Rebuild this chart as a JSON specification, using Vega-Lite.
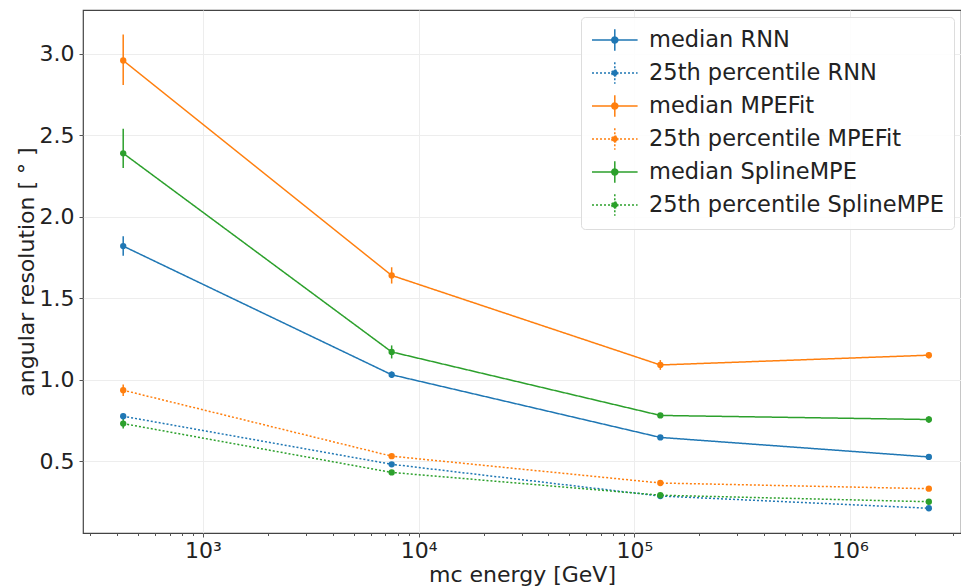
{
  "$schema": "https://vega.github.io/schema/vega-lite/v6.json",
  "width": 878,
  "height": 523,
  "autosize": {"type": "none"},
  "padding": {"left": 83, "top": 10, "right": 0, "bottom": 54},
  "background": "white",
  "config": {
    "font": "DejaVu Sans",
    "view": {"stroke": "#444", "strokeWidth": 1.2},
    "axis": {
      "labelFont": "DejaVu Sans",
      "titleFont": "DejaVu Sans",
      "labelFontSize": 22,
      "titleFontSize": 22,
      "titleFontWeight": "normal",
      "labelColor": "#222",
      "titleColor": "#222",
      "gridColor": "#ededed",
      "gridWidth": 1,
      "domain": false,
      "tickColor": "#555",
      "tickSize": 4
    }
  },
  "data": {
    "values": [
      {"series": "median RNN", "energy": 427, "value": 1.82, "lo": 1.76, "hi": 1.88},
      {"series": "median RNN", "energy": 7500, "value": 1.03, "lo": 1.01, "hi": 1.05},
      {"series": "median RNN", "energy": 132000, "value": 0.645, "lo": 0.635, "hi": 0.655},
      {"series": "median RNN", "energy": 2320000, "value": 0.525, "lo": 0.515, "hi": 0.535},
      {"series": "25th percentile RNN", "energy": 427, "value": 0.775, "lo": 0.76, "hi": 0.79},
      {"series": "25th percentile RNN", "energy": 7500, "value": 0.48, "lo": 0.47, "hi": 0.49},
      {"series": "25th percentile RNN", "energy": 132000, "value": 0.285, "lo": 0.275, "hi": 0.295},
      {"series": "25th percentile RNN", "energy": 2320000, "value": 0.21, "lo": 0.2, "hi": 0.22},
      {"series": "median MPEFit", "energy": 427, "value": 2.96, "lo": 2.81, "hi": 3.12},
      {"series": "median MPEFit", "energy": 7500, "value": 1.64, "lo": 1.59, "hi": 1.69},
      {"series": "median MPEFit", "energy": 132000, "value": 1.09, "lo": 1.06, "hi": 1.12},
      {"series": "median MPEFit", "energy": 2320000, "value": 1.15, "lo": 1.13, "hi": 1.17},
      {"series": "25th percentile MPEFit", "energy": 427, "value": 0.935, "lo": 0.9, "hi": 0.97},
      {"series": "25th percentile MPEFit", "energy": 7500, "value": 0.53, "lo": 0.52, "hi": 0.54},
      {"series": "25th percentile MPEFit", "energy": 132000, "value": 0.365, "lo": 0.355, "hi": 0.375},
      {"series": "25th percentile MPEFit", "energy": 2320000, "value": 0.33, "lo": 0.32, "hi": 0.34},
      {"series": "median SplineMPE", "energy": 427, "value": 2.39, "lo": 2.3, "hi": 2.54},
      {"series": "median SplineMPE", "energy": 7500, "value": 1.17, "lo": 1.13, "hi": 1.21},
      {"series": "median SplineMPE", "energy": 132000, "value": 0.78, "lo": 0.77, "hi": 0.79},
      {"series": "median SplineMPE", "energy": 2320000, "value": 0.755, "lo": 0.735, "hi": 0.775},
      {"series": "25th percentile SplineMPE", "energy": 427, "value": 0.73, "lo": 0.7, "hi": 0.76},
      {"series": "25th percentile SplineMPE", "energy": 7500, "value": 0.43, "lo": 0.42, "hi": 0.44},
      {"series": "25th percentile SplineMPE", "energy": 132000, "value": 0.29, "lo": 0.28, "hi": 0.3},
      {"series": "25th percentile SplineMPE", "energy": 2320000, "value": 0.25, "lo": 0.24, "hi": 0.26}
    ]
  },
  "resolve": {"axis": {"x": "independent"}},
  "layer": [
    {
      "mark": {"type": "rule", "strokeWidth": 1.5},
      "encoding": {
        "x": {
          "field": "energy", "type": "quantitative",
          "scale": {"type": "log", "domain": [278, 3270000], "nice": false},
          "axis": {
            "orient": "bottom",
            "values": [1000, 10000, 100000, 1000000],
            "labelExpr": "datum.value == 1000 ? '10³' : datum.value == 10000 ? '10⁴' : datum.value == 100000 ? '10⁵' : '10⁶'",
            "title": "mc energy [GeV]",
            "labelPadding": 3,
            "titlePadding": 3,
            "grid": true
          }
        },
        "y": {
          "field": "lo", "type": "quantitative",
          "scale": {"domain": [0.058, 3.27], "nice": false, "zero": false},
          "axis": {
            "values": [0.5, 1.0, 1.5, 2.0, 2.5, 3.0],
            "format": ".1f",
            "title": "angular resolution [ ° ]",
            "labelPadding": 5,
            "titlePadding": 1,
            "grid": true
          }
        },
        "y2": {"field": "hi"},
        "color": {"field": "series", "type": "nominal",
          "scale": {
            "domain": ["median RNN", "25th percentile RNN", "median MPEFit", "25th percentile MPEFit", "median SplineMPE", "25th percentile SplineMPE"],
            "range": ["#1f77b4", "#1f77b4", "#ff7f0e", "#ff7f0e", "#2ca02c", "#2ca02c"]
          },
          "legend": {
            "orient": "top-right",
            "offset": 7,
            "title": null,
            "labelFontSize": 22.5,
            "labelFont": "DejaVu Sans",
            "labelColor": "#222",
            "labelLimit": 500,
            "labelOffset": 32,
            "symbolType": "M-1,0H2.8M0.9,-0.9V0.9M0.65,0A0.25,0.25 0 1,0 1.15,0A0.25,0.25 0 1,0 0.65,0Z",
            "symbolSize": 576,
            "symbolStrokeWidth": 1.5,
            "rowPadding": 5,
            "padding": 10,
            "fillColor": "rgba(255,255,255,0.85)",
            "strokeColor": "#dddddd",
            "cornerRadius": 4
          }
        }
      }
    },
    {
      "mark": {"type": "line", "strokeWidth": 1.5},
      "encoding": {
        "x": {"field": "energy", "type": "quantitative", "axis": null},
        "y": {"field": "value", "type": "quantitative"},
        "color": {"field": "series", "type": "nominal"},
        "strokeDash": {
          "field": "series", "type": "nominal",
          "scale": {
            "domain": ["median RNN", "25th percentile RNN", "median MPEFit", "25th percentile MPEFit", "median SplineMPE", "25th percentile SplineMPE"],
            "range": [[1, 0], [2, 2], [1, 0], [2, 2], [1, 0], [2, 2]]
          }
        }
      }
    },
    {
      "mark": {"type": "point", "filled": true, "size": 40, "opacity": 1},
      "encoding": {
        "x": {"field": "energy", "type": "quantitative", "axis": null},
        "y": {"field": "value", "type": "quantitative"},
        "color": {"field": "series", "type": "nominal"}
      }
    },
    {
      "mark": {"type": "point", "opacity": 0},
      "encoding": {
        "x": {
          "field": "energy", "type": "quantitative",
          "axis": {
            "orient": "bottom",
            "values": [300, 400, 500, 600, 700, 800, 900, 2000, 3000, 4000, 5000, 6000, 7000, 8000, 9000, 20000, 30000, 40000, 50000, 60000, 70000, 80000, 90000, 200000, 300000, 400000, 500000, 600000, 700000, 800000, 900000, 2000000, 3000000],
            "labels": false,
            "title": null,
            "grid": false,
            "tickSize": 2.5
          }
        },
        "y": {"field": "value", "type": "quantitative"}
      }
    }
  ]
}
